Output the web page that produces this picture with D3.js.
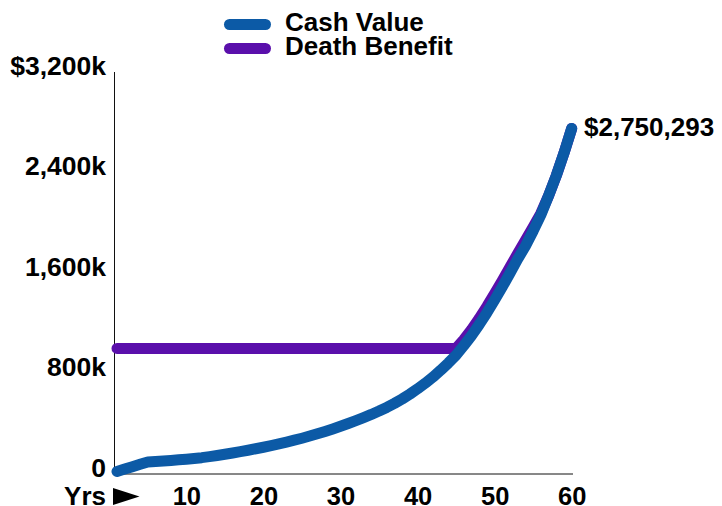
<!DOCTYPE html>
<html>
<head>
<meta charset="utf-8">
<script src="https://cdn.jsdelivr.net/npm/d3@7"></script>
<style>
  body { margin: 0; background: #fff; }
  svg text { font-family: "Liberation Sans", Arial, sans-serif; font-weight: bold; fill: #000; }
</style>
</head>
<body>
<div id="chart"></div>
<script>
// policy years
var years = d3.range(1, 61);

// cash value by year ($)
var cashValue = [
  20000, 39000, 58000, 77000, 95000, 99000, 103000, 108000, 113000, 118000,
  124000, 130000, 138000, 147000, 157000, 167000, 178000, 189000, 201000, 213000,
  226000, 240000, 254000, 269000, 285000, 302000, 320000, 339000, 359000, 380000,
  402000, 425000, 449000, 474000, 501000, 530000, 562000, 597000, 636000, 678000,
  723000, 772000, 826000, 884000, 946000, 1022000, 1102000, 1190000, 1284000, 1385000,
  1490000, 1600000, 1712000, 1815000, 1935000, 2062000, 2215000, 2375000, 2555000, 2750293
];

// death benefit by year ($)
var deathBenefit = [
  1000000, 1000000, 1000000, 1000000, 1000000, 1000000, 1000000, 1000000, 1000000, 1000000,
  1000000, 1000000, 1000000, 1000000, 1000000, 1000000, 1000000, 1000000, 1000000, 1000000,
  1000000, 1000000, 1000000, 1000000, 1000000, 1000000, 1000000, 1000000, 1000000, 1000000,
  1000000, 1000000, 1000000, 1000000, 1000000, 1000000, 1000000, 1000000, 1000000, 1000000,
  1000000, 1000000, 1000000, 1000000, 1000000, 1070000, 1150000, 1238000, 1334000, 1436000,
  1540000, 1648000, 1755000, 1860000, 1965000, 2075000, 2215000, 2375000, 2555000, 2750293
];

var seriesNames = ["Cash Value", "Death Benefit"];
var seriesColors = ["#0c5aa6", "#5a0fab"];

var xTicks = [10, 20, 30, 40, 50, 60];
var yTicks = [0, 800000, 1600000, 2400000, 3200000];
var yTickLabels = ["0", "800k", "1,600k", "2,400k", "$3,200k"];
var endLabel = "$2,750,293";

drawChart();

function drawChart() {
  var svg = d3.select("#chart").append("svg")
    .attr("width", 722)
    .attr("height", 506);

  var plot = {left: 114.5, right: 573, top: 72, bottom: 474};

  var x = d3.scaleLinear().domain([1, 60]).range([117, 571.7]);
  var y = d3.scaleLinear().domain([0, 3200000]).range([plot.bottom, plot.top]);

  // axis lines
  svg.append("line")
    .attr("x1", plot.left).attr("x2", plot.left)
    .attr("y1", plot.top).attr("y2", plot.bottom)
    .attr("stroke", "#111").attr("stroke-width", 1);
  svg.append("line")
    .attr("x1", plot.left).attr("x2", plot.right)
    .attr("y1", plot.bottom).attr("y2", plot.bottom)
    .attr("stroke", "#111").attr("stroke-width", 1);

  // y axis labels
  var yAxis = d3.axisLeft(y)
    .tickValues(yTicks)
    .tickSize(0)
    .tickPadding(8.5)
    .tickFormat(function(d, i) { return yTickLabels[i]; });

  svg.append("g")
    .attr("transform", "translate(" + plot.left + ",0)")
    .call(yAxis)
    .call(function(g) { g.select(".domain").remove(); })
    .selectAll("text")
    .attr("dy", "0.08em")
    .style("font-size", "26.5px")
    .style("font-family", "'Liberation Sans', Arial, sans-serif")
    .style("font-weight", "bold")
    .attr("fill", "#000");

  // x axis labels
  var xAxis = d3.axisBottom(x)
    .tickValues(xTicks)
    .tickSize(0)
    .tickPadding(13)
    .tickFormat(d3.format("d"));

  svg.append("g")
    .attr("transform", "translate(0," + plot.bottom + ")")
    .call(xAxis)
    .call(function(g) { g.select(".domain").remove(); })
    .selectAll("text")
    .style("font-size", "25.5px")
    .style("font-family", "'Liberation Sans', Arial, sans-serif")
    .style("font-weight", "bold")
    .attr("fill", "#000");

  // "Yrs" marker
  svg.append("text")
    .attr("x", 106)
    .attr("y", 505)
    .style("text-anchor", "end")
    .style("font-size", "26px")
    .text("Yrs");
  svg.append("path")
    .attr("d", "M113,488L139.5,496.5L113,505Z")
    .attr("fill", "#000");

  // lines
  var line = d3.line()
    .x(function(d) { return x(d[0]); })
    .y(function(d) { return y(d[1]); });

  var dbData = years.map(function(yr, i) { return [yr, deathBenefit[i]]; });
  var cvData = years.map(function(yr, i) { return [yr, cashValue[i]]; });

  svg.append("path")
    .datum(dbData)
    .attr("d", line)
    .attr("fill", "none")
    .attr("stroke", seriesColors[1])
    .attr("stroke-width", 11)
    .attr("stroke-linecap", "round")
    .attr("stroke-linejoin", "round");

  svg.append("path")
    .datum(cvData)
    .attr("d", line)
    .attr("fill", "none")
    .attr("stroke", seriesColors[0])
    .attr("stroke-width", 11)
    .attr("stroke-linecap", "round")
    .attr("stroke-linejoin", "round");

  // end label
  svg.append("text")
    .attr("x", 584)
    .attr("y", 136)
    .style("font-size", "26px")
    .text(endLabel);

  // legend
  var legend = svg.selectAll(".legend")
    .data(seriesNames)
    .enter().append("g")
    .attr("class", "legend")
    .attr("transform", function(d, i) { return "translate(0," + (24.5 + i * 24) + ")"; });

  legend.append("line")
    .attr("x1", 229.5).attr("x2", 265.5)
    .attr("y1", 0).attr("y2", 0)
    .attr("stroke", function(d, i) { return seriesColors[i]; })
    .attr("stroke-width", 11)
    .attr("stroke-linecap", "round");

  legend.append("text")
    .attr("x", 285)
    .attr("y", 6.5)
    .style("font-size", "26px")
    .text(function(d) { return d; });
}
</script>
</body>
</html>
